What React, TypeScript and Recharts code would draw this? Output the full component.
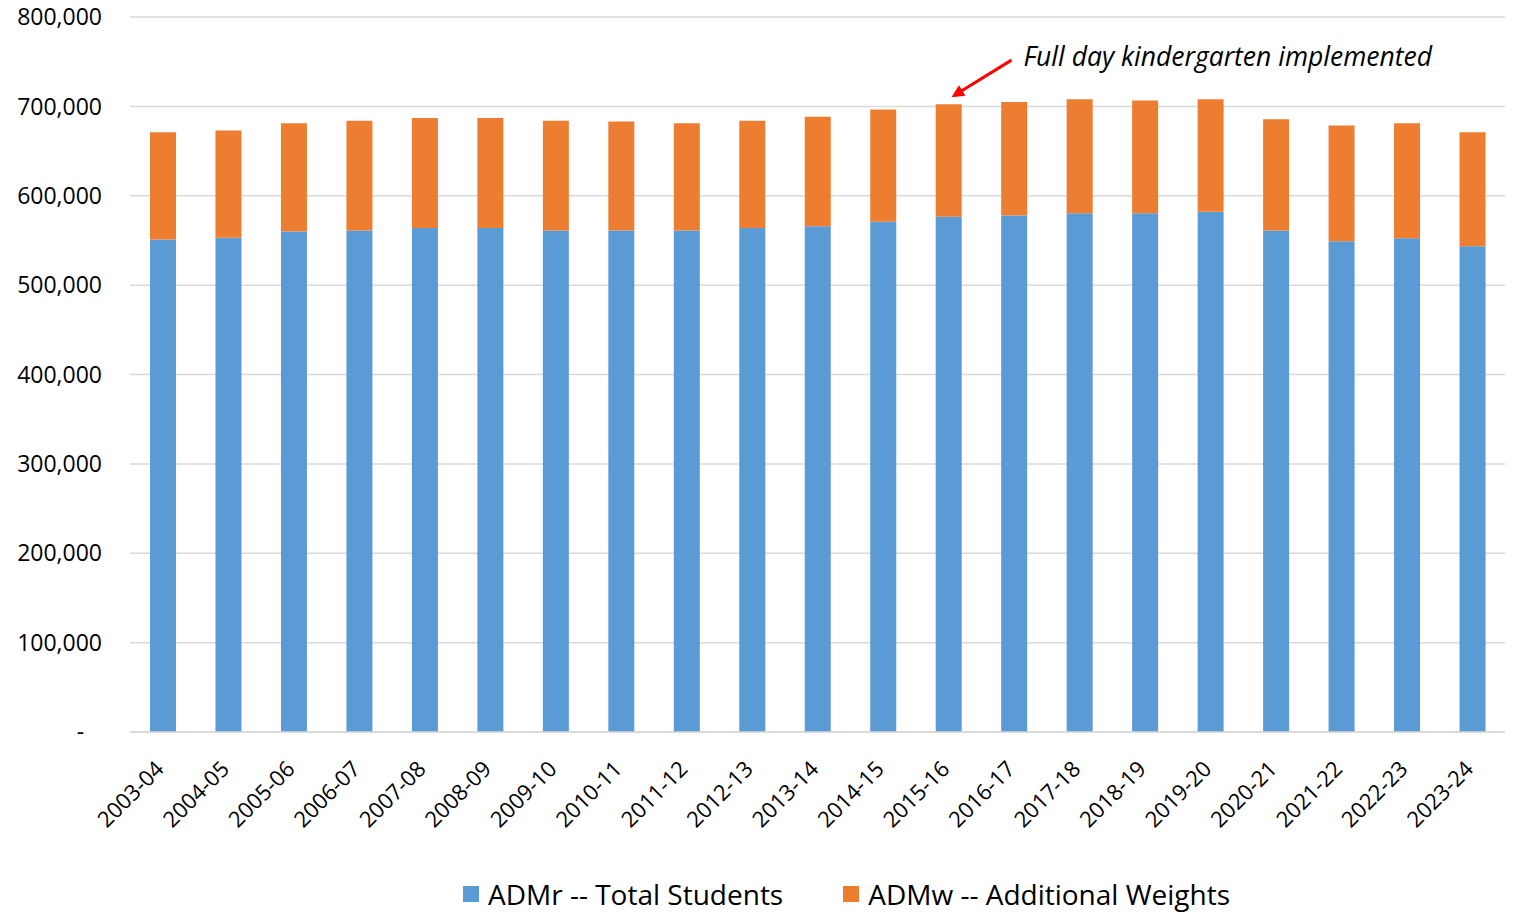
import React from "react";
import { Bar, BarChart, CartesianGrid, Legend, ReferenceDot, XAxis, YAxis } from "recharts";

const years = [
  "2003-04", "2004-05", "2005-06", "2006-07", "2007-08", "2008-09", "2009-10",
  "2010-11", "2011-12", "2012-13", "2013-14", "2014-15", "2015-16", "2016-17",
  "2017-18", "2018-19", "2019-20", "2020-21", "2021-22", "2022-23", "2023-24",
];

// ADMr -- total students
const admr = [
  551000, 553000, 560000, 561000, 564000, 564000, 561000,
  561000, 561000, 564000, 566000, 571000, 576500, 578000,
  580500, 580500, 582000, 561000, 549000, 552500, 543500,
];

// ADMr + ADMw (bar top)
const totals = [
  671000, 673000, 681000, 684000, 687000, 687000, 684000,
  683000, 681000, 684000, 688500, 696500, 702500, 705000,
  708000, 706500, 708000, 685500, 678500, 681000, 671000,
];

const yTicks = [0, 100000, 200000, 300000, 400000, 500000, 600000, 700000, 800000];

const BLUE = "#5B9BD5";
const ORANGE = "#ED7D31";
const FONT = "'Open Sans', sans-serif";

const data = years.map((year, i) => ({
  year,
  admr: admr[i],
  admw: totals[i] - admr[i],
}));

const fmt = (v: number) => (v === 0 ? "-\u00A0\u00A0\u00A0" : v.toLocaleString("en-US"));

function YearTick({ x, y, payload }: any) {
  return (
    <g transform={`translate(${x - 3},${y + 25})`}>
      <text transform="rotate(-45)" textAnchor="end" dy="0.35em" fill="#000" fontSize={22} fontFamily={FONT}>
        {payload.value}
      </text>
    </g>
  );
}

function Note({ cx, cy }: any) {
  if (cx == null || cy == null) return null;
  const tipX = cx + 3;
  const tipY = cy - 7;
  const tailX = cx + 63;
  const tailY = cy - 44;
  const ang = Math.atan2(tipY - tailY, tipX - tailX);
  const head = 14;
  const spread = 0.45;
  const p1 = [tipX - head * Math.cos(ang - spread), tipY - head * Math.sin(ang - spread)];
  const p2 = [tipX - head * Math.cos(ang + spread), tipY - head * Math.sin(ang + spread)];
  return (
    <g>
      <line x1={tailX} y1={tailY} x2={tipX - 6 * Math.cos(ang)} y2={tipY - 6 * Math.sin(ang)} stroke="#FF0000" strokeWidth={3} />
      <polygon points={`${tipX},${tipY} ${p1[0]},${p1[1]} ${p2[0]},${p2[1]}`} fill="#FF0000" />
      <text x={cx + 75} y={cy - 38} fontSize={26.5} fontStyle="italic" fontFamily={FONT} fill="#000">
        Full day kindergarten implemented
      </text>
    </g>
  );
}

function LegendBox() {
  const items = [
    { label: "ADMr -- Total Students", color: BLUE },
    { label: "ADMw -- Additional Weights", color: ORANGE },
  ];
  return (
    <div style={{ height: 36, display: "flex", justifyContent: "center", alignItems: "center", gap: 60, paddingLeft: 188 }}>
      {items.map((it) => (
        <div key={it.label} style={{ display: "flex", alignItems: "center", fontFamily: FONT, fontSize: 28, color: "#000" }}>
          <span style={{ width: 16, height: 16, background: it.color, display: "inline-block", marginRight: 9 }} />
          {it.label}
        </div>
      ))}
    </div>
  );
}

export default function App() {
  return (
    <div style={{ position: "absolute", left: 0, top: 0, width: 1514, height: 912, background: "#fff" }}>
      <BarChart width={1514} height={912} data={data} margin={{ top: 17, right: 9, left: 0, bottom: 0 }} barSize={26}>
        <CartesianGrid vertical={false} stroke="#D9D9D9" strokeWidth={1.5} />
        <XAxis
          dataKey="year"
          interval={0}
          height={144}
          tickLine={false}
          axisLine={{ stroke: "#D9D9D9", strokeWidth: 1.5 }}
          tick={<YearTick />}
        />
        <YAxis
          width={130}
          domain={[0, 800000]}
          ticks={yTicks}
          tickFormatter={fmt}
          axisLine={false}
          tickLine={false}
          tickMargin={22}
          tick={{ fill: "#000", fontSize: 23, fontFamily: FONT }}
        />
        <Legend verticalAlign="bottom" content={<LegendBox />} />
        <Bar dataKey="admr" stackId="a" fill={BLUE} isAnimationActive={false} name="ADMr -- Total Students" />
        <Bar dataKey="admw" stackId="a" fill={ORANGE} isAnimationActive={false} name="ADMw -- Additional Weights" />
        <ReferenceDot x="2015-16" y={totals[12]} r={0} ifOverflow="visible" shape={<Note />} />
      </BarChart>
    </div>
  );
}
